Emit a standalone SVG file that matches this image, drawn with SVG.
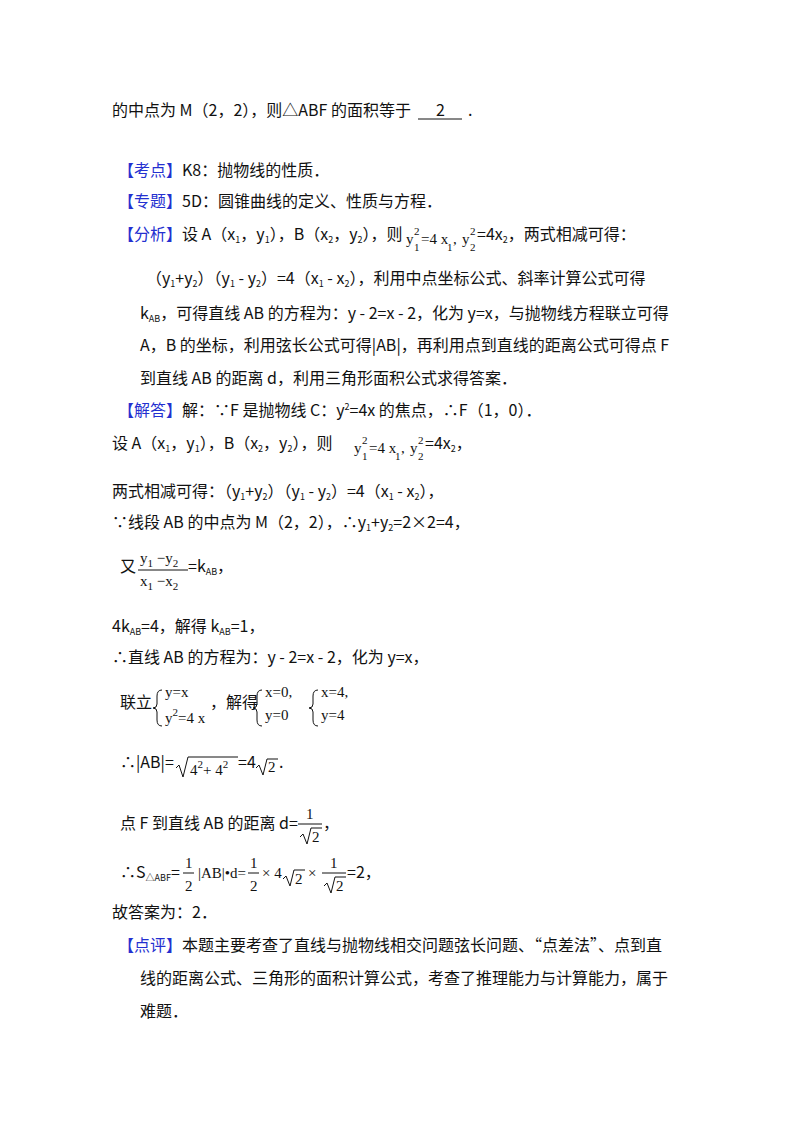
<svg xmlns="http://www.w3.org/2000/svg" width="800" height="1132" viewBox="0 0 800 1132">
<style>
text{font-family:"Noto Sans CJK SC","Noto Sans",sans-serif;font-size:16px;fill:#111}
.b{fill:#2430d0}
.m{font-family:"Liberation Serif",serif;font-size:15px}
.s{font-size:9px}
.ms{font-family:"Liberation Serif",serif;font-size:11px}
line,path{stroke:#111;fill:none;stroke-width:1}
</style>
<rect width="800" height="1132" fill="#fff"/>
<text x="112" y="116">的中点为 M（2，2），则△ABF 的面积等于</text>
<text x="436" y="116">2</text>
<text x="468" y="116">.</text>
<line x1="418" y1="119" x2="462" y2="119"/>
<text x="118" y="176"><tspan class="b">【考点】</tspan>K8：抛物线的性质．</text>
<text x="118" y="207"><tspan class="b">【专题】</tspan>5D：圆锥曲线的定义、性质与方程．</text>
<text x="118" y="240"><tspan class="b">【分析】</tspan>设 A（x<tspan class="s" dy="3">1</tspan><tspan dy="-3">，y</tspan><tspan class="s" dy="3">1</tspan><tspan dy="-3">），B（x</tspan><tspan class="s" dy="3">2</tspan><tspan dy="-3">，y</tspan><tspan class="s" dy="3">2</tspan><tspan dy="-3">），则</tspan></text>
<g>
<text class="m" x="406" y="244">y</text><text class="ms" x="414" y="235">2</text><text class="ms" x="414" y="251">1</text>
<text class="m" x="421" y="244">=4 x</text><text class="ms" x="447" y="251">1</text><text class="m" x="453" y="244">,</text>
<text class="m" x="462" y="244">y</text><text class="ms" x="470" y="235">2</text><text class="ms" x="470" y="251">2</text>
</g>
<text x="477" y="240">=4x<tspan class="s" dy="3">2</tspan><tspan dy="-3">，两式相减可得：</tspan></text>
<text x="146" y="284">（y<tspan class="s" dy="3">1</tspan><tspan dy="-3">+y</tspan><tspan class="s" dy="3">2</tspan><tspan dy="-3">）（y</tspan><tspan class="s" dy="3">1</tspan><tspan dy="-3"> - y</tspan><tspan class="s" dy="3">2</tspan><tspan dy="-3">）=4（x</tspan><tspan class="s" dy="3">1</tspan><tspan dy="-3"> - x</tspan><tspan class="s" dy="3">2</tspan><tspan dy="-3">），利用中点坐标公式、斜率计算公式可得</tspan></text>
<text x="140" y="319">k<tspan class="s" dy="3">AB</tspan><tspan dy="-3">，可得直线 AB 的方程为：y - 2=x - 2，化为 y=x，与抛物线方程联立可得</tspan></text>
<text x="140" y="351">A，B 的坐标，利用弦长公式可得|AB|，再利用点到直线的距离公式可得点 F</text>
<text x="140" y="384">到直线 AB 的距离 d，利用三角形面积公式求得答案．</text>
<text x="118" y="416"><tspan class="b">【解答】</tspan>解：∵F 是抛物线 C：y<tspan class="s" dy="-6">2</tspan><tspan dy="6">=4x 的焦点，∴F（1，0）．</tspan></text>
<text x="112" y="449">设 A（x<tspan class="s" dy="3">1</tspan><tspan dy="-3">，y</tspan><tspan class="s" dy="3">1</tspan><tspan dy="-3">），B（x</tspan><tspan class="s" dy="3">2</tspan><tspan dy="-3">，y</tspan><tspan class="s" dy="3">2</tspan><tspan dy="-3">），则</tspan></text>
<g>
<text class="m" x="354" y="453">y</text><text class="ms" x="362" y="444">2</text><text class="ms" x="362" y="460">1</text>
<text class="m" x="369" y="453">=4 x</text><text class="ms" x="395" y="460">1</text><text class="m" x="401" y="453">,</text>
<text class="m" x="410" y="453">y</text><text class="ms" x="418" y="444">2</text><text class="ms" x="418" y="460">2</text>
</g>
<text x="425" y="449">=4x<tspan class="s" dy="3">2</tspan><tspan dy="-3">，</tspan></text>
<text x="112" y="497">两式相减可得：（y<tspan class="s" dy="3">1</tspan><tspan dy="-3">+y</tspan><tspan class="s" dy="3">2</tspan><tspan dy="-3">）（y</tspan><tspan class="s" dy="3">1</tspan><tspan dy="-3"> - y</tspan><tspan class="s" dy="3">2</tspan><tspan dy="-3">）=4（x</tspan><tspan class="s" dy="3">1</tspan><tspan dy="-3"> - x</tspan><tspan class="s" dy="3">2</tspan><tspan dy="-3">），</tspan></text>
<text x="112" y="528">∵线段 AB 的中点为 M（2，2），∴y<tspan class="s" dy="3">1</tspan><tspan dy="-3">+y</tspan><tspan class="s" dy="3">2</tspan><tspan dy="-3">=2×2=4，</tspan></text>
<text x="120" y="572">又</text>
<text class="m" x="140" y="563">y<tspan class="ms" dy="4">1</tspan><tspan dy="-4"> −y</tspan><tspan class="ms" dy="4">2</tspan></text>
<line x1="138" y1="570" x2="188" y2="570"/>
<text class="m" x="140" y="586">x<tspan class="ms" dy="4">1</tspan><tspan dy="-4"> −x</tspan><tspan class="ms" dy="4">2</tspan></text>
<text x="188" y="572">=k<tspan class="s" dy="3">AB</tspan><tspan dy="-3">，</tspan></text>
<text x="112" y="632">4k<tspan class="s" dy="3">AB</tspan><tspan dy="-3">=4，解得 k</tspan><tspan class="s" dy="3">AB</tspan><tspan dy="-3">=1，</tspan></text>
<text x="112" y="663">∴直线 AB 的方程为：y - 2=x - 2，化为 y=x，</text>
<text x="120" y="708">联立</text>
<path d="M162 690 q-5 0 -5 6 v8 q0 4 -4 4 q4 0 4 4 v8 q0 6 5 6"/>
<text class="m" x="165" y="697">y=x</text>
<text class="m" x="165" y="723">y<tspan class="ms" dy="-7">2</tspan><tspan dy="7">=4 x</tspan></text>
<text x="210" y="708">，解得</text>
<path d="M262 690 q-5 0 -5 6 v8 q0 4 -4 4 q4 0 4 4 v8 q0 6 5 6"/>
<text class="m" x="265" y="697">x=0,</text>
<text class="m" x="265" y="720">y=0</text>
<path d="M318 690 q-5 0 -5 6 v8 q0 4 -4 4 q4 0 4 4 v8 q0 6 5 6"/>
<text class="m" x="321" y="697">x=4,</text>
<text class="m" x="321" y="720">y=4</text>
<text x="120" y="768">∴|AB|=</text>
<path d="M176 768 l3 -3 l4 12 l5 -20 h50"/>
<text class="m" x="190" y="775">4<tspan class="ms" dy="-7">2</tspan><tspan dy="7">+ 4</tspan><tspan class="ms" dy="-7">2</tspan></text>
<text x="238" y="768">=4</text>
<path d="M256 768 l3 -3 l4 10 l4 -16 h11"/>
<text class="m" x="268" y="772">2</text>
<text x="279" y="768">.</text>
<text x="120" y="829">点 F 到直线 AB 的距离 d=</text>
<text class="m" x="306" y="819">1</text>
<line x1="298" y1="824" x2="322" y2="824"/>
<path d="M300 837 l3 -3 l4 10 l4 -16 h11"/>
<text class="m" x="312" y="842">2</text>
<text x="323" y="829">，</text>
<g transform="translate(8,0)">
<text class="m" x="177" y="868">1</text>
<line x1="175" y1="873" x2="186" y2="873"/>
<text class="m" x="177" y="891">2</text>
<text class="m" x="190" y="878">|AB|•d=</text>
<text class="m" x="242" y="868">1</text>
<line x1="240" y1="873" x2="251" y2="873"/>
<text class="m" x="242" y="891">2</text>
<text class="m" x="254" y="878">× 4</text>
<path d="M275 879 l3 -3 l4 10 l4 -16 h11"/>
<text class="m" x="287" y="884">2</text>
<text class="m" x="300" y="878">×</text>
<text class="m" x="322" y="868">1</text>
<line x1="314" y1="873" x2="338" y2="873"/>
<path d="M316 886 l3 -3 l4 10 l4 -16 h11"/>
<text class="m" x="328" y="891">2</text>
<text x="339" y="878">=2，</text>
</g>
<text x="120" y="878">∴S<tspan class="s" dy="3">△ABF</tspan><tspan dy="-3">=</tspan></text>
<text x="112" y="918">故答案为：2．</text>
<text x="118" y="951"><tspan class="b">【点评】</tspan>本题主要考查了直线与抛物线相交问题弦长问题、“点差法”、点到直</text>
<text x="140" y="984">线的距离公式、三角形的面积计算公式，考查了推理能力与计算能力，属于</text>
<text x="140" y="1017">难题．</text>
</svg>
